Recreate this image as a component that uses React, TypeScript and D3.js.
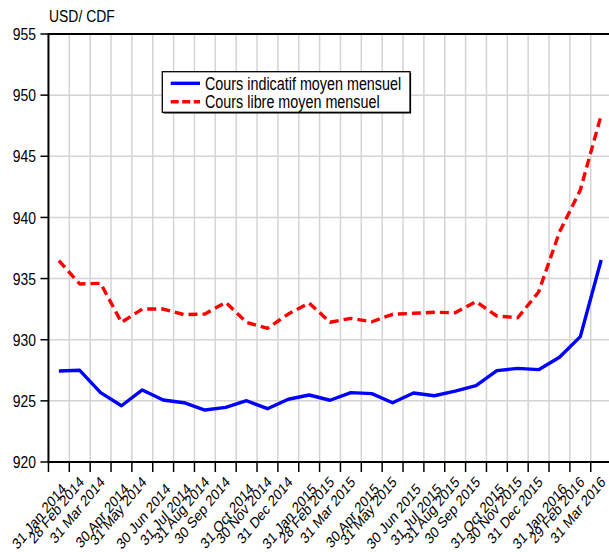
import React from "react";
import * as d3 from "d3";

const monthLabels = [
  "31 Jan 2014", "28 Feb 2014", "31 Mar 2014", "30 Apr 2014", "31 May 2014", "30 Jun 2014",
  "31 Jul 2014", "31 Aug 2014", "30 Sep 2014", "31 Oct 2014", "30 Nov 2014", "31 Dec 2014",
  "31 Jan 2015", "28 Feb 2015", "31 Mar 2015", "30 Apr 2015", "31 May 2015", "30 Jun 2015",
  "31 Jul 2015", "31 Aug 2015", "30 Sep 2015", "31 Oct 2015", "30 Nov 2015", "31 Dec 2015",
  "31 Jan 2016", "29 Feb 2016", "31 Mar 2016",
];

const coursIndicatif = [
  927.44, 927.5, 925.67, 924.6, 925.89, 925.07, 924.85, 924.25, 924.47, 925.01, 924.36, 925.13,
  925.48, 925.05, 925.67, 925.59, 924.85, 925.64, 925.42, 925.8, 926.24, 927.47, 927.66, 927.55,
  928.56, 930.25, 936.52,
];

const coursLibre = [
  936.46, 934.56, 934.61, 931.42, 932.51, 932.51, 932.05, 932.1, 933.06, 931.42, 930.93, 932.1,
  933.0, 931.43, 931.75, 931.47, 932.08, 932.16, 932.24, 932.21, 933.11, 931.94, 931.8, 933.9,
  938.8, 942.24, 948.37,
];

const yTicks = [920, 925, 930, 935, 940, 945, 950, 955];
const seriesNames = ["Cours indicatif moyen mensuel", "Cours libre moyen mensuel"];
const yTitle = "USD/ CDF";

const FONT = "'Liberation Sans', Arial, sans-serif";
const NARROW = 0.82;
const lowMonths = new Set(["Jan", "Apr", "Jun", "Jul", "Oct"]);

function NText(props: {
  x: number;
  y: number;
  size: number;
  anchor?: string;
  dy?: string;
  rotate?: number;
  children: React.ReactNode;
}) {
  const { x, y, size, anchor = "start", dy, rotate = 0, children } = props;
  return (
    <text
      x={0}
      y={0}
      dy={dy}
      textAnchor={anchor}
      fontSize={size}
      fill="#000"
      transform={`translate(${x},${y}) scale(${NARROW},1) rotate(${rotate})`}
    >
      {children}
    </text>
  );
}

export default function App() {
  const left = 48.45;
  const right = 611.6;
  const top = 34;
  const bottom = 462;

  const x = d3.scaleBand<string>().domain(monthLabels).range([left, right]).padding(0);
  const y = d3.scaleLinear().domain([920, 955]).range([bottom, top]);
  const bw = x.bandwidth();
  const cx = (i: number) => (x(monthLabels[i]) as number) + bw / 2;

  const line = d3
    .line<number>()
    .x((_, i) => cx(i))
    .y((d) => y(d));

  const boundaries = d3.range(1, monthLabels.length + 1).map((i) => left + i * bw);

  return (
    <svg
      width={609}
      height={552}
      style={{ position: "absolute", left: 0, top: 0, background: "#fff" }}
      fontFamily={FONT}
    >
      <rect x={0} y={0} width={609} height={552} fill="#fff" />
      {/* grid */}
      {boundaries.map((bx, i) => (
        <line key={"vg" + i} x1={bx} x2={bx} y1={top} y2={bottom} stroke="#d4d4d4" strokeWidth={1.5} />
      ))}
      {yTicks.slice(1, -1).map((t) => (
        <line key={"hg" + t} x1={left} x2={right} y1={y(t)} y2={y(t)} stroke="#d4d4d4" strokeWidth={1.5} />
      ))}

      {/* series */}
      <path d={line(coursIndicatif) || ""} fill="none" stroke="#0000ff" strokeWidth={3.4} strokeLinejoin="round" />
      <path
        d={line(coursLibre) || ""}
        fill="none"
        stroke="#ff0000"
        strokeWidth={3.4}
        strokeDasharray="9,5"
        strokeLinejoin="round"
      />

      {/* frame */}
      <line x1={left} x2={right} y1={top} y2={top} stroke="#000" strokeWidth={2} />
      <line x1={left} x2={right} y1={bottom} y2={bottom} stroke="#000" strokeWidth={2} />
      <line x1={left} x2={left} y1={top - 1} y2={bottom + 1} stroke="#000" strokeWidth={2} />

      {/* y axis ticks */}
      {yTicks.map((t) => (
        <g key={"yt" + t}>
          <line x1={left - 8} x2={left} y1={y(t)} y2={y(t)} stroke="#000" strokeWidth={1.5} />
          <NText x={36} y={y(t)} dy="0.36em" anchor="end" size={17}>
            {t}
          </NText>
        </g>
      ))}
      <NText x={49} y={22} size={17}>
        {yTitle}
      </NText>

      {/* x axis ticks */}
      {[left, ...boundaries].map((bx, i) => (
        <line key={"xt" + i} x1={bx} x2={bx} y1={bottom} y2={bottom + 10} stroke="#000" strokeWidth={1.5} />
      ))}
      {monthLabels.map((lab, i) => {
        const low = lowMonths.has(lab.split(" ")[1]);
        const ax = cx(i) + (low ? 8 : 5);
        const ay = low ? 490 : 483;
        return (
          <NText key={"xl" + i} x={ax} y={ay} anchor="end" size={15.5} rotate={-45}>
            {lab}
          </NText>
        );
      })}

      {/* legend */}
      <rect x={163.4} y={72.9} width={247.7} height={40.6} fill="#000" />
      <rect x={162.3} y={71.7} width={247.7} height={40.6} fill="#fff" stroke="#000" strokeWidth={1.3} />
      <line x1={170.7} x2={200} y1={83.3} y2={83.3} stroke="#0000ff" strokeWidth={3.4} />
      <line x1={170.7} x2={200} y1={101.7} y2={101.7} stroke="#ff0000" strokeWidth={3.4} strokeDasharray="8,3.5" />
      <NText x={205} y={83.3} dy="0.36em" size={17.5}>
        {seriesNames[0]}
      </NText>
      <NText x={205} y={101.7} dy="0.36em" size={17.5}>
        {seriesNames[1]}
      </NText>
    </svg>
  );
}
